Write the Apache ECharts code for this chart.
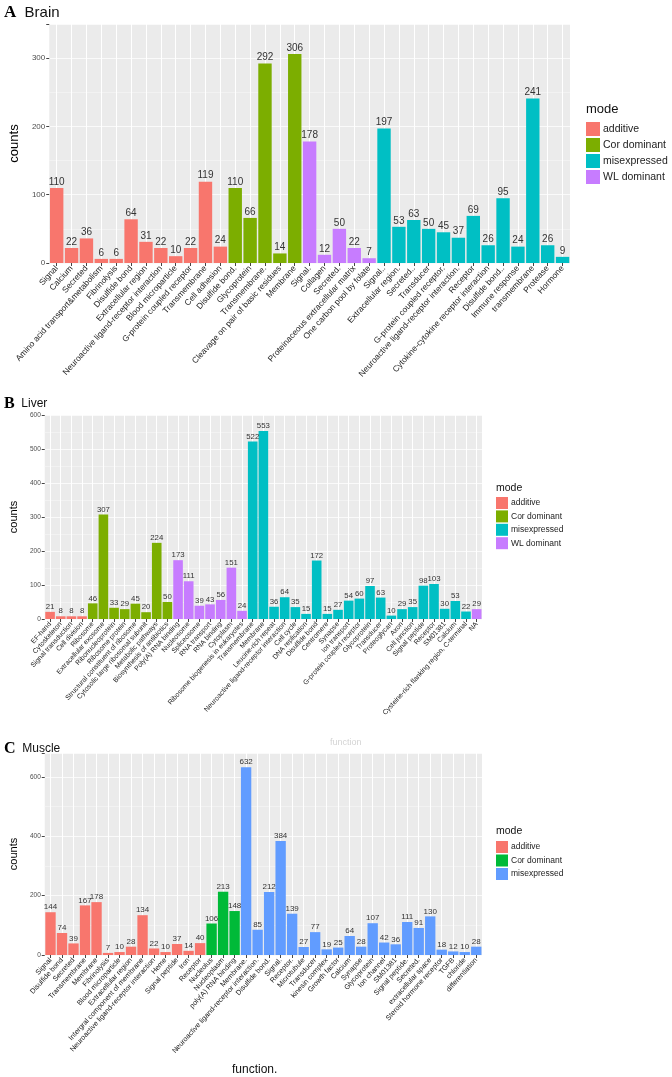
<!DOCTYPE html>
<html>
<head>
<meta charset="utf-8">
<script src="https://cdn.jsdelivr.net/npm/echarts@6/dist/echarts.min.js"></script>
<style>
html,body{margin:0;padding:0;background:#fff}
#main{width:672px;height:1077px}
</style>
</head>
<body>
<div id="main"></div>
<script>
/************** data **************/
var modeNames = ['additive', 'Cor dominant', 'misexpressed', 'WL dominant'];

var brainNames = ['Signal', 'Calcium', 'Secreted', 'Amino acid transport&metabolism', 'Fibrinolysis', 'Disulfide bond',
  'Extracellular region', 'Neuroactive ligand-receptor interaction', 'Blood microparticle', 'G-protein coupled receptor',
  'Transmembrane', 'Cell adhesion', 'Disulfide bond.', 'Glycoprotein', 'Transmembrane.', 'Cleavage on pair of basic residues',
  'Membrane', 'Signal.', 'Collagen', 'Secreted.', 'Proteinaceous extracellular matrix', 'One carbon pool by folate',
  'Signal..', 'Extracellular region.', 'Secreted..', 'Transducer', 'G-protein coupled receptor.',
  'Neuroactive ligand-receptor interaction.', 'Receptor', 'Cytokine-cytokine receptor interaction', 'Disulfide bond..',
  'Immune response', 'transmembrane', 'Protease', 'Hormone'];
var brainValues = [110, 22, 36, 6, 6, 64, 31, 22, 10, 22, 119, 24, 110, 66, 292, 14, 306, 178, 12, 50, 22, 7,
  197, 53, 63, 50, 45, 37, 69, 26, 95, 24, 241, 26, 9];
var brainModes = [0,0,0,0,0,0,0,0,0,0,0,0, 1,1,1,1,1, 3,3,3,3,3, 2,2,2,2,2,2,2,2,2,2,2,2,2];

var liverNames = ['EF-hand', 'Cytoskeleton', 'Signal transduction', 'Cell division', 'Ribosome', 'Extracellular exosome',
  'Ribonucleoprotein', 'Ribosome protein', 'Structural constituent of ribosome', 'Cytosolic large ribosomal subunit',
  'Metabolic pathways', 'Biosynthesis of antibiotics', 'Poly(A) RNA binding', 'Nucleosome', 'Spliceosome', 'RNA transport',
  'RNA binding', 'Cytoplasm', 'Ribosome biogenesis in eukaryotes', 'Transmembrane', 'Membrane', 'Leucine-rich repeat',
  'Neuroactive ligand-receptor interaction', 'Cell cycle', 'DNA replication', 'Disulfide bond', 'Centromere', 'Synapse',
  'Ion transport', 'G-protein coupled receptor', 'Glycoprotein', 'Transducer', 'Proteoglycan', 'Axon', 'Cell junction',
  'Signal peptide', 'Receptor', 'SM01381', 'Calcium', 'Cysteine-rich flanking region, C-terminal', 'NA'];
var liverValues = [21, 8, 8, 8, 46, 307, 33, 29, 45, 20, 224, 50, 173, 111, 39, 43, 56, 151, 24, 522, 553, 36, 64, 35,
  15, 172, 15, 27, 54, 60, 97, 63, 10, 29, 35, 98, 103, 30, 53, 22, 29];
var liverModes = [0,0,0,0, 1,1,1,1,1,1,1,1, 3,3,3,3,3,3,3, 2,2,2,2,2,2,2,2,2,2,2,2,2,2,2,2,2,2,2,2,2, 3];

var muscleNames = ['Signal', 'Disulfide bond', 'Secreted', 'Transmembrane', 'Membrane', 'Fibrinolysis', 'Blood microparticle',
  'Extracellular region', 'Intergral component of membrane', 'Neuroactive ligand-receptor interaction', 'Heme',
  'Signal peptide', 'Iron', 'Receptor', 'Nucleolus', 'Nucleoplasm', 'poly(A) RNA binding', 'Membrane.',
  'Neuroactive ligand-receptor interaction.', 'Disulfide bond.', 'Signal.', 'Receptor.', 'Microtubule', 'Transducer',
  'kinesin complex', 'Growth factor', 'Calcium', 'Synapse', 'Glycoprotein', 'Ion channel', 'SM01381', 'Signal peptide.',
  'Secreted.', 'extracellular space', 'Steroid hormone receptor', 'TGFB', 'chloride', 'differentiation'];
var muscleValues = [144, 74, 39, 167, 178, 7, 10, 28, 134, 22, 10, 37, 14, 40, 106, 213, 148, 632, 85, 212, 384, 139,
  27, 77, 19, 25, 64, 28, 107, 42, 36, 111, 91, 130, 18, 12, 10, 28];
var muscleModes = [0,0,0,0,0,0,0,0,0,0,0,0,0,0, 1,1,1, 2,2,2,2,2,2,2,2,2,2,2,2,2,2,2,2,2,2,2,2,2];

/************** layout **************/
var panels = [
  {letter: 'A', title: 'Brain', names: brainNames, values: brainValues, modes: brainModes, usedModes: [0, 1, 2, 3],
   colors: ['#F8766D', '#7CAE00', '#00BFC4', '#C77CFF'],
   left: 35, top: 24, width: 535, height: 239, max: 350, major: 100, minor: 50,
   titleTop: 4, titleSize: 15, letterSize: 17, labelSize: 8.4, valueSize: 10, ySize: 8, nameSize: 13, nameGap: 21,
   legendLeft: 586, legendTop: 122, legendItem: 14, legendGap: 2, legendFont: 10.5, modeTop: 103, modeSize: 13},
  {letter: 'B', title: 'Liver', names: liverNames, values: liverValues, modes: liverModes, usedModes: [0, 1, 2, 3],
   colors: ['#F8766D', '#7CAE00', '#00BFC4', '#C77CFF'],
   left: 30, top: 415, width: 452, height: 204, max: 600, major: 100, minor: 50,
   titleTop: 396, titleSize: 12, letterSize: 16, labelSize: 6.9, valueSize: 7.8, ySize: 6.5, nameSize: 11, nameGap: 19,
   legendLeft: 496, legendTop: 497, legendItem: 12, legendGap: 1.4, legendFont: 8.5, modeTop: 483, modeSize: 10.5},
  {letter: 'C', title: 'Muscle', names: muscleNames, values: muscleValues, modes: muscleModes, usedModes: [0, 1, 2],
   colors: ['#F8766D', '#00BA38', '#619CFF'],
   left: 30, top: 753, width: 452, height: 202, max: 680, major: 200, minor: 100,
   titleTop: 741, titleSize: 12, letterSize: 16, labelSize: 7.2, valueSize: 8, ySize: 6.5, nameSize: 11, nameGap: 19,
   legendLeft: 496, legendTop: 841, legendItem: 12, legendGap: 1.5, legendFont: 8.5, modeTop: 826, modeSize: 10.5}
];

var option = {
  animation: false,
  backgroundColor: '#fff',
  textStyle: {fontFamily: 'Liberation Sans, Arial, sans-serif'},
  title: [], grid: [], xAxis: [], yAxis: [], legend: [], series: [],
  graphic: [
    {type: 'text', left: 232, top: 1064, style: {text: 'function.', fontSize: 12, fill: '#111', fontFamily: 'Liberation Sans'}},
    {type: 'text', left: 330, top: 738, style: {text: 'function', fontSize: 9, fill: '#d4d4d4', fontFamily: 'Liberation Sans'}}
  ]
};

panels.forEach(function (p, k) {
  option.title.push({
    left: 4, top: p.titleTop, padding: 0,
    text: '{l|' + p.letter + '}{t|  ' + p.title + '}',
    textStyle: {rich: {
      l: {fontFamily: 'Liberation Serif, Times New Roman, serif', fontWeight: 'bold', fontSize: p.letterSize, color: '#000'},
      t: {fontFamily: 'Liberation Sans, Arial, sans-serif', fontWeight: 'normal', fontSize: p.titleSize, color: '#111'}
    }}
  });
  option.title.push({
    left: p.legendLeft, top: p.modeTop, padding: 0, text: 'mode',
    textStyle: {fontSize: p.modeSize, fontWeight: 'normal', color: '#111', fontFamily: 'Liberation Sans'}
  });
  option.grid.push({
    left: p.left, top: p.top, width: p.width, height: p.height,
    show: true, backgroundColor: '#EBEBEB', borderWidth: 0
  });
  option.xAxis.push({
    type: 'category', gridIndex: k, data: p.names,
    axisLine: {show: false},
    axisTick: {show: true, alignWithLabel: true, length: 3, lineStyle: {color: '#444'}},
    splitLine: {show: true, alignWithLabel: true, interval: 0, lineStyle: {color: '#fff', width: 1}},
    axisLabel: {interval: 0, rotate: 48, fontSize: p.labelSize, color: '#222', margin: 4}
  });
  option.yAxis.push({
    type: 'value', gridIndex: k, min: 0, max: p.max, interval: p.major,
    name: 'counts', nameLocation: 'middle', nameRotate: 90, nameGap: p.nameGap,
    nameTextStyle: {fontSize: p.nameSize, color: '#000'},
    axisLine: {show: false},
    axisTick: {show: true, length: 3, lineStyle: {color: '#444'}},
    axisLabel: {fontSize: p.ySize, color: '#4D4D4D', margin: 4,
      formatter: function (v) { return v % p.major === 0 ? v : ''; }},
    splitLine: {show: true, lineStyle: {color: '#fff', width: 1.1}}
  });
  option.yAxis.push({
    type: 'value', gridIndex: k, min: 0, max: p.max, interval: p.minor,
    axisLine: {show: false}, axisTick: {show: false}, axisLabel: {show: false},
    splitLine: {show: true, lineStyle: {color: '#F7F7F7', width: 0.6}}
  });

  var legendData = [];
  p.usedModes.forEach(function (m) {
    var sName = p.letter + '|' + modeNames[m];
    legendData.push(sName);
    option.series.push({
      name: sName, type: 'bar', xAxisIndex: k, yAxisIndex: 2 * k, stack: 'panel' + k,
      barCategoryGap: '10%',
      itemStyle: {color: p.colors[m]},
      label: {show: true, position: 'top', distance: 1, fontSize: p.valueSize, color: '#333'},
      data: p.values.map(function (v, i) { return p.modes[i] === m ? v : '-'; })
    });
  });
  option.legend.push({
    data: legendData, orient: 'vertical', left: p.legendLeft, top: p.legendTop, padding: 0,
    icon: 'rect', itemWidth: p.legendItem, itemHeight: p.legendItem, itemGap: p.legendGap,
    selectedMode: false,
    textStyle: {fontSize: p.legendFont, color: '#222', padding: [0, 0, 0, -2]},
    formatter: function (name) { return name.split('|')[1]; }
  });
});

var myChart = echarts.init(document.getElementById('main'));
myChart.setOption(option);
</script>
</body>
</html>
